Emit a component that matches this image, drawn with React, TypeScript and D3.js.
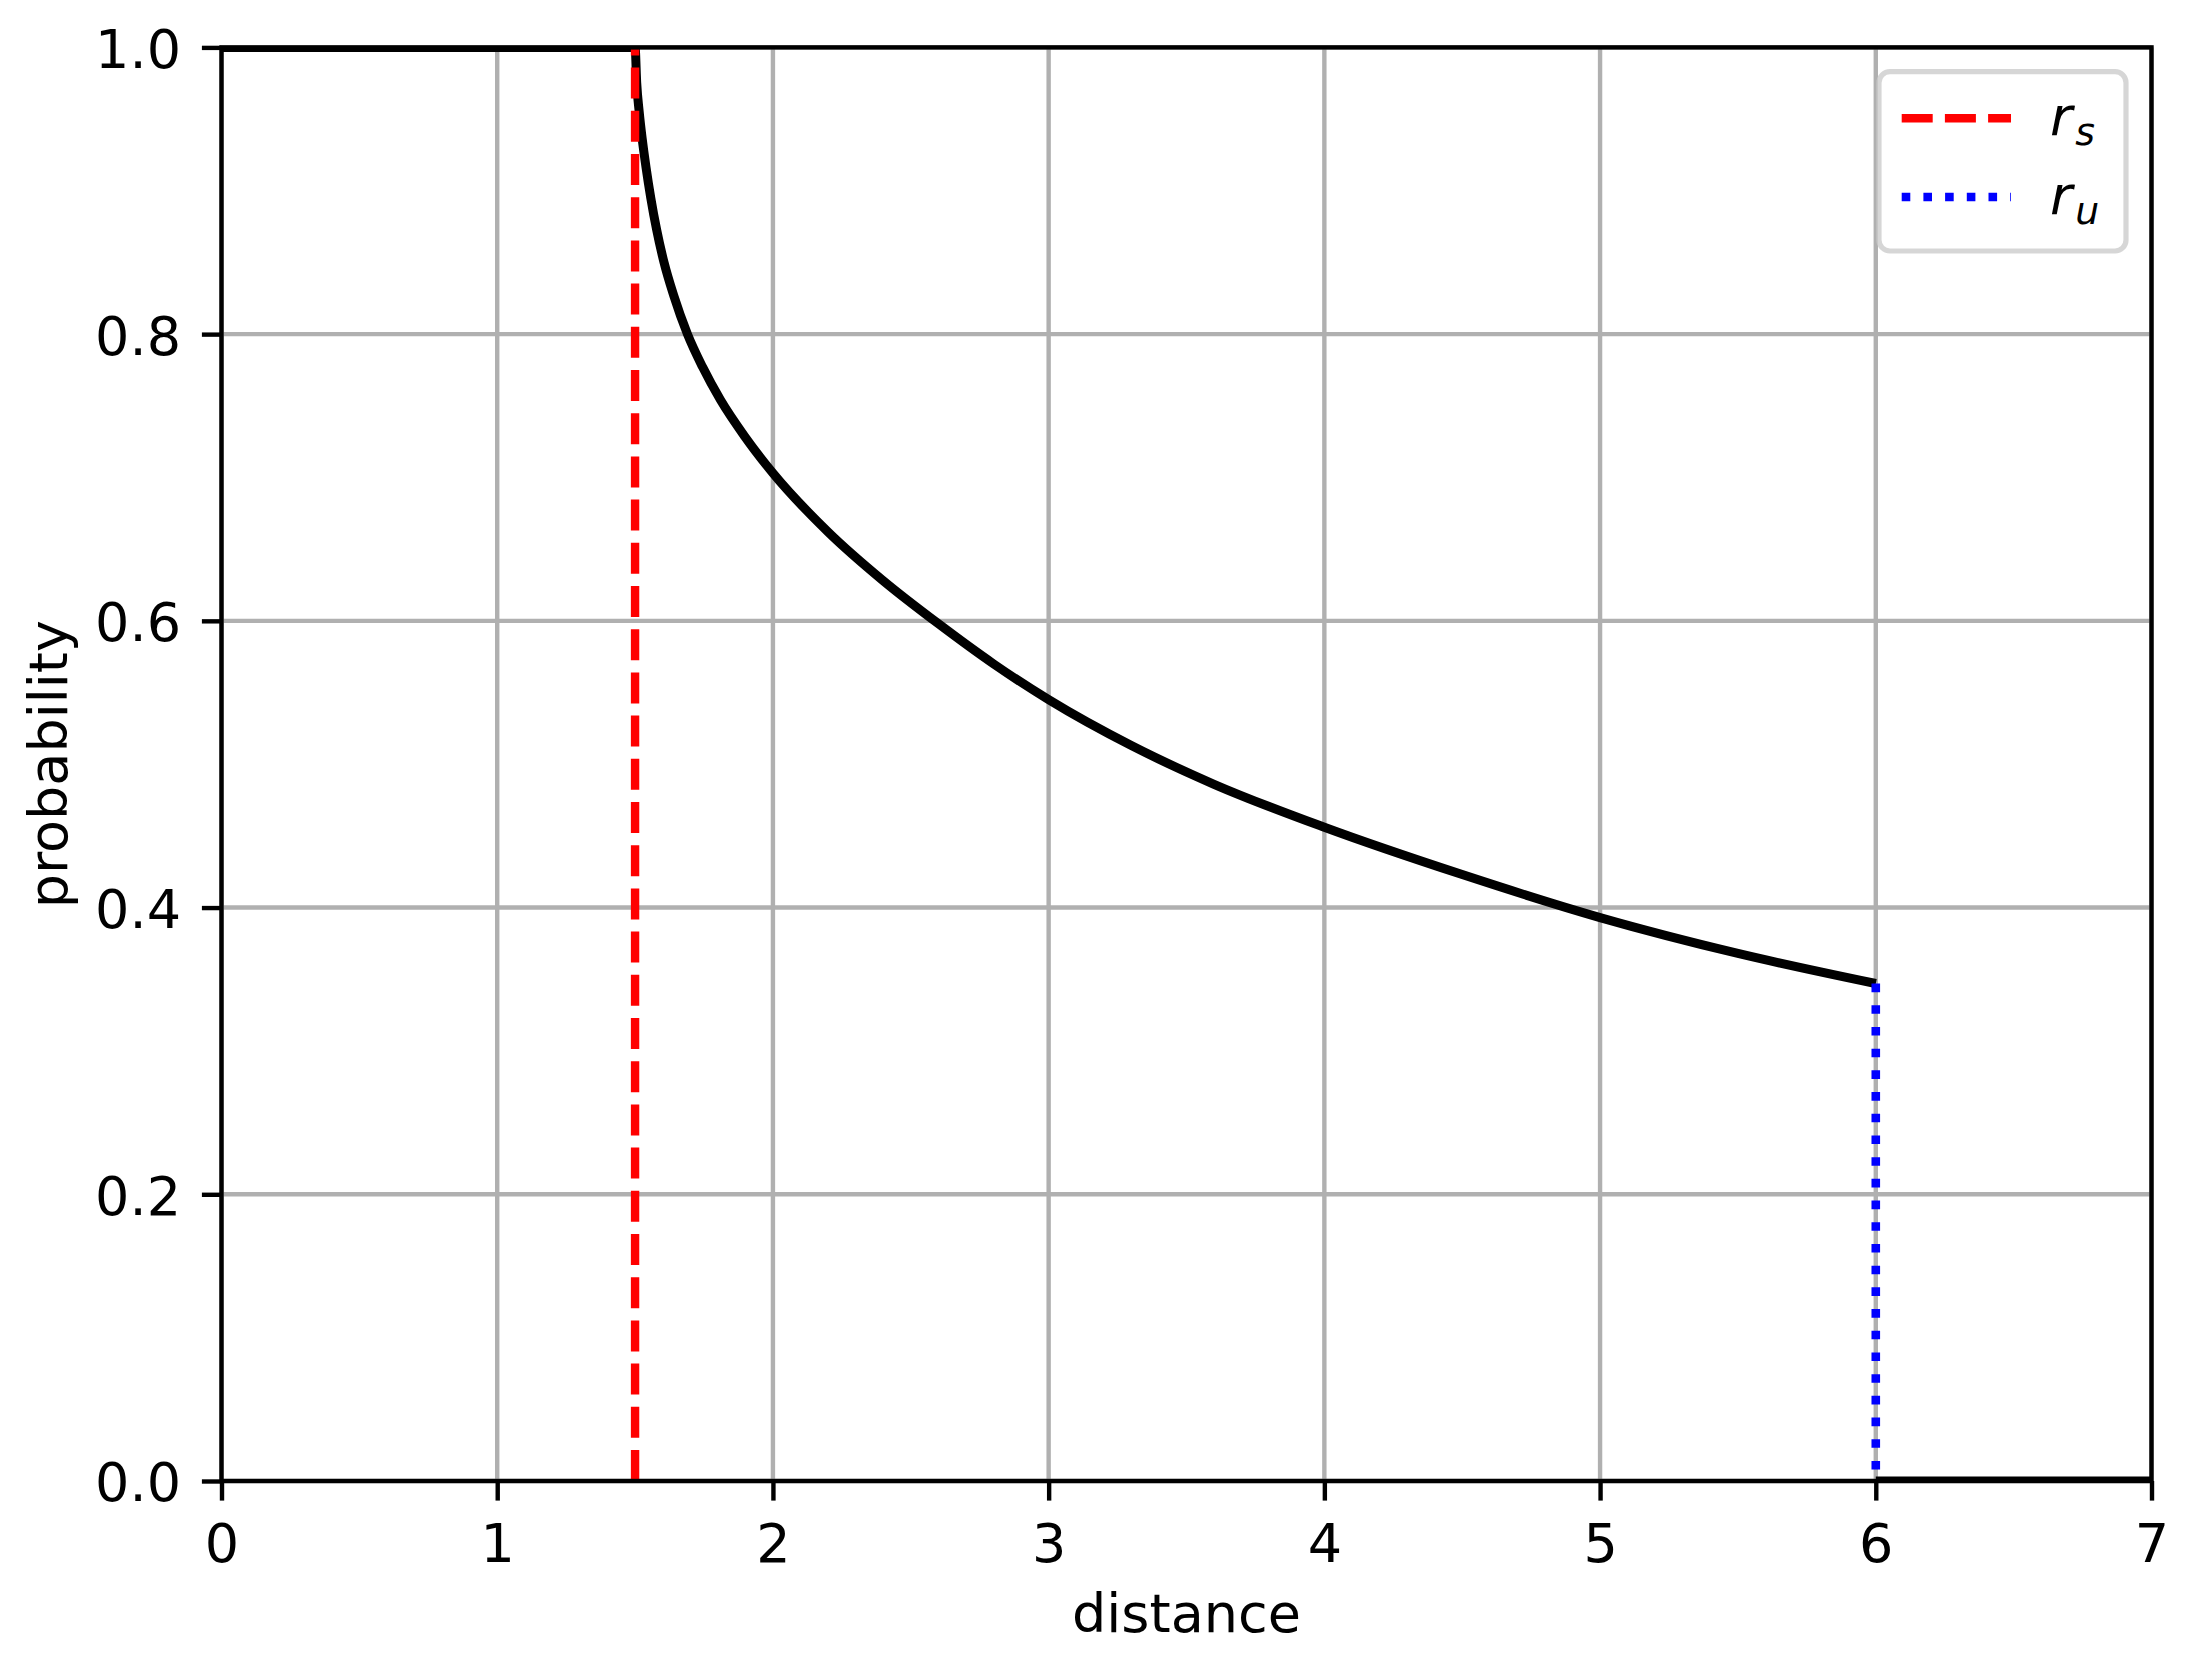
import { useEffect, useRef } from "react";
import * as d3 from "d3";

// curve; NaN splits the line at r_u
const distance = [
  0, 1.5, 1.506, 1.515, 1.526, 1.54, 1.557, 1.578, 1.605, 1.64, 1.69, 1.745,
  1.81, 1.9, 2.0, 2.2, 2.4, 2.6, 2.8, 3.0, 3.3, 3.6, 4.0, 4.5, 5.0, 5.5, 6.0,
  NaN, 6.0, 7.0,
];
const probability = [
  1, 1, 0.975, 0.955, 0.936, 0.916, 0.895, 0.873, 0.85, 0.827, 0.8, 0.777,
  0.754, 0.728, 0.703, 0.662, 0.628, 0.598, 0.57, 0.545, 0.513, 0.486, 0.456,
  0.423, 0.393, 0.368, 0.347, NaN, 0, 0,
];
const rS = 1.5;
const rU = 6;
const rUTop = 0.347;
const xTicks = [0, 1, 2, 3, 4, 5, 6, 7];
const yTicks = [0, 0.2, 0.4, 0.6, 0.8, 1.0];
const legendItems = [
  { sub: "s", color: "red", dash: "31,12.2" },
  { sub: "u", color: "blue", dash: "8.6,13.1" },
];

const W = 2187;
const H = 1653;
const margin = { left: 221.5, right: 35.5, top: 47.4, bottom: 172 };
const FONT = "DejaVu Sans";
const FS = 54;

const Chart = () => {
  const svgRef = useRef<SVGSVGElement>(null);

  useEffect(() => {
    const svg = d3.select(svgRef.current);
    svg.selectAll("*").remove();

    const bw = W - margin.left - margin.right;
    const bh = H - margin.top - margin.bottom;

    const x = d3.scaleLinear().domain([0, 7]).range([0, bw]);
    const y = d3.scaleLinear().domain([0, 1]).range([bh, 0]);

    const data = distance.map((d, i) => ({ d, p: probability[i] }));

    svg
      .append("defs")
      .append("clipPath")
      .attr("id", "plotArea")
      .append("rect")
      .attr("width", bw)
      .attr("height", bh);

    const g = svg
      .append("g")
      .attr("transform", `translate(${margin.left},${margin.top})`);

    // grid
    g.append("g")
      .selectAll("line")
      .data(xTicks)
      .join("line")
      .attr("x1", (d) => x(d))
      .attr("x2", (d) => x(d))
      .attr("y1", 0)
      .attr("y2", bh)
      .attr("stroke", "#b0b0b0")
      .attr("stroke-width", 4.4);
    g.append("g")
      .selectAll("line")
      .data(yTicks)
      .join("line")
      .attr("x1", 0)
      .attr("x2", bw)
      .attr("y1", (d) => y(d))
      .attr("y2", (d) => y(d))
      .attr("stroke", "#b0b0b0")
      .attr("stroke-width", 4.4);

    // probability curve
    const line = d3
      .line<{ d: number; p: number }>()
      .defined((d) => !isNaN(d.d) && !isNaN(d.p))
      .x((d) => x(d.d))
      .y((d) => y(d.p))
      .curve(d3.curveMonotoneX);

    g.append("path")
      .datum(data)
      .attr("clip-path", "url(#plotArea)")
      .attr("fill", "none")
      .attr("stroke", "black")
      .attr("stroke-width", 9)
      .attr("stroke-linejoin", "round")
      .attr("d", line);

    // r_s and r_u markers
    g.append("line")
      .attr("x1", x(rS))
      .attr("x2", x(rS))
      .attr("y1", y(0))
      .attr("y2", y(1))
      .attr("stroke", "red")
      .attr("stroke-width", 8.4)
      .attr("stroke-dasharray", legendItems[0].dash);

    g.append("line")
      .attr("x1", x(rU))
      .attr("x2", x(rU))
      .attr("y1", y(rUTop))
      .attr("y2", y(0))
      .attr("stroke", "blue")
      .attr("stroke-width", 8.6)
      .attr("stroke-dasharray", legendItems[1].dash);

    // axes (ticks + labels)
    const xAxis = g
      .append("g")
      .attr("transform", `translate(0,${bh})`)
      .call(
        d3
          .axisBottom(x)
          .tickValues(xTicks)
          .tickFormat(d3.format("d"))
          .tickSize(19.6)
          .tickPadding(22.8)
      );
    const yAxis = g.append("g").call(
      d3
        .axisLeft(y)
        .tickValues(yTicks)
        .tickFormat(d3.format(".1f"))
        .tickSize(19.6)
        .tickPadding(20.9)
    );
    [xAxis, yAxis].forEach((a) => {
      a.select(".domain").remove();
      a.selectAll(".tick line").attr("stroke", "black").attr("stroke-width", 4.4);
      a.selectAll(".tick text")
        .attr("fill", "black")
        .style("font-family", FONT)
        .style("font-size", `${FS}px`);
    });
    yAxis.selectAll(".tick text").attr("dy", "0.37em");

    // spines
    g.append("rect")
      .attr("width", bw)
      .attr("height", bh)
      .attr("fill", "none")
      .attr("stroke", "black")
      .attr("stroke-width", 4.4);

    // axis labels
    svg
      .append("text")
      .attr("x", margin.left + bw / 2)
      .attr("y", 1632)
      .attr("text-anchor", "middle")
      .style("font-family", FONT)
      .style("font-size", `${FS}px`)
      .text("distance");

    svg
      .append("text")
      .attr("transform", `translate(67,${margin.top + bh / 2}) rotate(-90)`)
      .attr("text-anchor", "middle")
      .style("font-family", FONT)
      .style("font-size", `${FS}px`)
      .text("probability");

    // legend
    const lg = svg.append("g");
    lg.append("rect")
      .attr("x", 1879)
      .attr("y", 71.7)
      .attr("width", 247)
      .attr("height", 179.3)
      .attr("rx", 11)
      .attr("fill", "white")
      .attr("fill-opacity", 0.8)
      .attr("stroke", "#cccccc")
      .attr("stroke-opacity", 0.8)
      .attr("stroke-width", 5.2);

    legendItems.forEach((item, i) => {
      const ly = 118.3 + i * 78.7;
      lg.append("line")
        .attr("x1", 1901.7)
        .attr("x2", 2011)
        .attr("y1", ly)
        .attr("y2", ly)
        .attr("stroke", item.color)
        .attr("stroke-width", 8.6)
        .attr("stroke-dasharray", item.dash);
      const t = lg
        .append("text")
        .attr("x", 2050)
        .attr("y", ly + 17)
        .style("font-family", FONT)
        .style("font-size", `${FS}px`)
        .style("font-style", "italic");
      t.append("tspan").text("r");
      t.append("tspan")
        .attr("dy", 10)
        .attr("dx", 3)
        .style("font-size", `${FS * 0.7}px`)
        .text(item.sub);
    });
  }, []);

  return (
    <svg
      ref={svgRef}
      width={W}
      height={H}
      style={{ position: "absolute", left: 0, top: 0, background: "white" }}
    ></svg>
  );
};

export default function App() {
  return <Chart />;
}
